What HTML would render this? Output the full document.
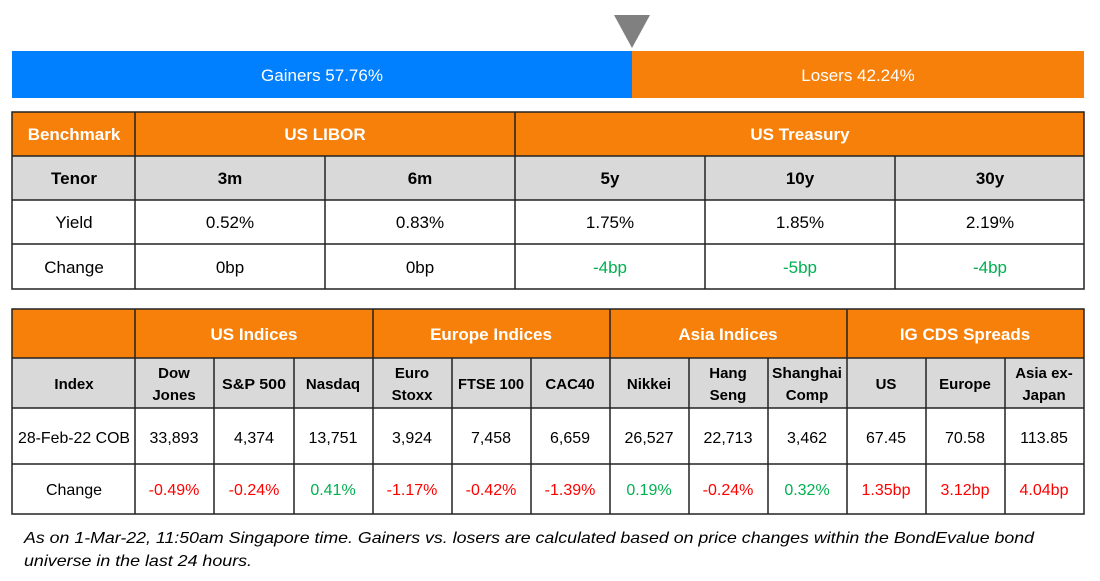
<!DOCTYPE html>
<html><head><meta charset="utf-8"><style>
html,body{margin:0;padding:0;background:#fff;}
svg{display:block;font-family:"Liberation Sans",Arial,sans-serif;}
</style></head><body>
<svg width="1100" height="581" viewBox="0 0 1100 581" xmlns="http://www.w3.org/2000/svg">
<polygon points="614,15 650,15 632,48" fill="#808080"/>
<rect x="12" y="51" width="620" height="47" fill="#0080FF"/>
<rect x="632" y="51" width="452" height="47" fill="#F7800A"/>
<text x="322" y="81" fill="#fff" font-size="17" text-anchor="middle">Gainers 57.76%</text>
<text x="858" y="81" fill="#fff" font-size="17" text-anchor="middle">Losers 42.24%</text>

<rect x="12" y="112" width="1072" height="44" fill="#F7800A"/>
<rect x="12" y="156" width="1072" height="44" fill="#D9D9D9"/>
<g stroke="#222" stroke-width="1.5" fill="none">
<rect x="12" y="112" width="1072" height="177"/>
<line x1="12" y1="156" x2="1084" y2="156"/>
<line x1="12" y1="200" x2="1084" y2="200"/>
<line x1="12" y1="244" x2="1084" y2="244"/>
<line x1="135" y1="112" x2="135" y2="289"/>
<line x1="515" y1="112" x2="515" y2="289"/>
<line x1="325" y1="156" x2="325" y2="289"/>
<line x1="705" y1="156" x2="705" y2="289"/>
<line x1="895" y1="156" x2="895" y2="289"/>
</g>
<g font-size="17" text-anchor="middle">
<text x="74" y="140" fill="#fff" font-weight="bold">Benchmark</text>
<text x="325" y="140" fill="#fff" font-weight="bold">US LIBOR</text>
<text x="800" y="140" fill="#fff" font-weight="bold">US Treasury</text>
<g font-weight="bold" fill="#000">
<text x="74" y="184">Tenor</text><text x="230" y="184">3m</text><text x="420" y="184">6m</text>
<text x="610" y="184">5y</text><text x="800" y="184">10y</text><text x="990" y="184">30y</text>
</g>
<g fill="#000">
<text x="74" y="228">Yield</text><text x="230" y="228">0.52%</text><text x="420" y="228">0.83%</text>
<text x="610" y="228">1.75%</text><text x="800" y="228">1.85%</text><text x="990" y="228">2.19%</text>
<text x="74" y="273">Change</text><text x="230" y="273">0bp</text><text x="420" y="273">0bp</text>
</g>
<g fill="#00B050">
<text x="610" y="273">-4bp</text><text x="800" y="273">-5bp</text><text x="990" y="273">-4bp</text>
</g>
</g>

<rect x="12" y="309" width="1072" height="49" fill="#F7800A"/>
<rect x="12" y="358" width="1072" height="50" fill="#D9D9D9"/>
<g stroke="#222" stroke-width="1.5" fill="none">
<rect x="12" y="309" width="1072" height="205"/>
<line x1="12" y1="358" x2="1084" y2="358"/>
<line x1="12" y1="408" x2="1084" y2="408"/>
<line x1="12" y1="464" x2="1084" y2="464"/>
<line x1="135" y1="309" x2="135" y2="514"/>
<line x1="373" y1="309" x2="373" y2="514"/>
<line x1="610" y1="309" x2="610" y2="514"/>
<line x1="847" y1="309" x2="847" y2="514"/>
<line x1="214" y1="358" x2="214" y2="514"/>
<line x1="294" y1="358" x2="294" y2="514"/>
<line x1="452" y1="358" x2="452" y2="514"/>
<line x1="531" y1="358" x2="531" y2="514"/>
<line x1="689" y1="358" x2="689" y2="514"/>
<line x1="768" y1="358" x2="768" y2="514"/>
<line x1="926" y1="358" x2="926" y2="514"/>
<line x1="1005" y1="358" x2="1005" y2="514"/>
</g>
<g text-anchor="middle">
<g font-size="17" font-weight="bold" fill="#fff">
<text x="254" y="340">US Indices</text><text x="491" y="340">Europe Indices</text>
<text x="728" y="340">Asia Indices</text><text x="965" y="340">IG CDS Spreads</text>
</g>
<g font-size="15" font-weight="bold" fill="#000">
<text x="74" y="389">Index</text>
<text x="174" y="378">Dow</text><text x="174" y="400">Jones</text>
<text x="254" y="389" textLength="64" lengthAdjust="spacingAndGlyphs">S&amp;P 500</text>
<text x="333" y="389">Nasdaq</text>
<text x="412" y="378">Euro</text><text x="412" y="400">Stoxx</text>
<text x="491" y="389" textLength="66" lengthAdjust="spacingAndGlyphs">FTSE 100</text>
<text x="570" y="389">CAC40</text>
<text x="649" y="389">Nikkei</text>
<text x="728" y="378">Hang</text><text x="728" y="400">Seng</text>
<text x="807" y="378" textLength="70" lengthAdjust="spacingAndGlyphs">Shanghai</text><text x="807" y="400">Comp</text>
<text x="886" y="389">US</text>
<text x="965" y="389">Europe</text>
<text x="1044" y="378">Asia ex-</text><text x="1044" y="400">Japan</text>
</g>
<g font-size="16" fill="#000">
<text x="74" y="443" textLength="112" lengthAdjust="spacingAndGlyphs">28-Feb-22 COB</text>
<text x="174" y="443">33,893</text><text x="254" y="443">4,374</text><text x="333" y="443">13,751</text>
<text x="412" y="443">3,924</text><text x="491" y="443">7,458</text><text x="570" y="443">6,659</text>
<text x="649" y="443">26,527</text><text x="728" y="443">22,713</text><text x="807" y="443">3,462</text>
<text x="886" y="443">67.45</text><text x="965" y="443">70.58</text><text x="1044" y="443">113.85</text>
<text x="74" y="495">Change</text>
</g>
<g font-size="16">
<text x="174" y="495" fill="#FF0000">-0.49%</text><text x="254" y="495" fill="#FF0000">-0.24%</text><text x="333" y="495" fill="#00B050">0.41%</text>
<text x="412" y="495" fill="#FF0000">-1.17%</text><text x="491" y="495" fill="#FF0000">-0.42%</text><text x="570" y="495" fill="#FF0000">-1.39%</text>
<text x="649" y="495" fill="#00B050">0.19%</text><text x="728" y="495" fill="#FF0000">-0.24%</text><text x="807" y="495" fill="#00B050">0.32%</text>
<text x="886" y="495" fill="#FF0000">1.35bp</text><text x="965" y="495" fill="#FF0000">3.12bp</text><text x="1044" y="495" fill="#FF0000">4.04bp</text>
</g>
</g>
<g font-size="16" font-style="italic" fill="#000">
<text x="24" y="543" textLength="1010" lengthAdjust="spacingAndGlyphs">As on 1-Mar-22, 11:50am Singapore time. Gainers vs. losers are calculated based on price changes within the BondEvalue bond</text>
<text x="24" y="566" textLength="228" lengthAdjust="spacingAndGlyphs">universe in the last 24 hours.</text>
</g>
</svg>
</body></html>
